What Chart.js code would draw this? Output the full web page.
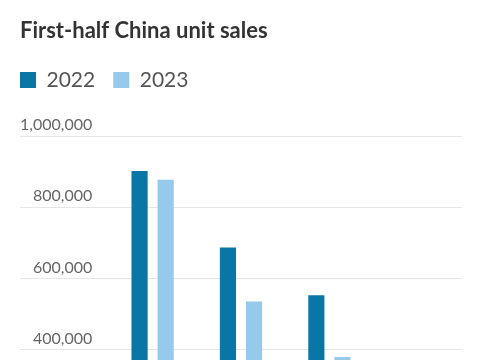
<!DOCTYPE html>
<html>
<head>
<meta charset="utf-8">
<script src="https://cdn.jsdelivr.net/npm/chart.js@4"></script>
<style>
  html, body { margin: 0; padding: 0; background: #fff; overflow: hidden; }
  #wrap { position: relative; width: 485px; height: 530px; }
</style>
</head>
<body>
<div id="wrap"><canvas id="grafica_ventas"></canvas></div>
<script>
/*-----Datos-----*/
// las categorías quedan por debajo del recorte, los nombres son estimados
const marcas = ['Tesla', 'Toyota', 'Honda', 'Nissan', 'Mazda'];
const ventas_2022 = [300000, 902000, 687000, 553000, 250000];
const ventas_2023 = [290000, 877000, 535000, 379000, 180000];
const ticks_y = [0, 200000, 400000, 600000, 800000, 1000000];

const azul_oscuro = 'rgb(10,118,166)';
const azul_claro = 'rgb(150,202,234)';

/*-----Gráfica de barras-----*/

const grafica_ventas = document.getElementById('grafica_ventas');

new Chart(grafica_ventas, {
  type: 'bar',
  data: {
    labels: marcas,
    datasets: [{
      label: '2022',
      data: ventas_2022,
      backgroundColor: azul_oscuro,
      categoryPercentage: 0.59,
      barPercentage: 0.62
    },
    {
      label: '2023',
      data: ventas_2023,
      backgroundColor: azul_claro,
      categoryPercentage: 0.59,
      barPercentage: 0.62
    }]
  },
  options: {
    animation: false,
    responsive: true,
    maintainAspectRatio: false,
    layout: {
      padding: { left: 2, right: 23, top: 0, bottom: 8 }
    },
    scales: {
      x: {
        grid: { display: false },
        border: { display: false },
        ticks: { color: '#666', font: { family: 'Lato', size: 15 } },
        afterFit: function(scale) { scale.height = 30; }
      },
      y: {
        min: 0,
        max: 1100000,
        border: { display: false },
        grid: {
          drawTicks: false,
          color: '#e6e6e6'
        },
        ticks: {
          mirror: true,
          crossAlign: 'far',
          padding: 0,
          labelOffset: -11,
          color: '#666',
          font: { family: 'Lato', size: 16 },
          callback: function(value) {
            return value.toLocaleString('en-US');
          }
        },
        afterBuildTicks: function(scale) {
          scale.ticks = ticks_y.map(v => ({ value: v }));
        },
        afterFit: function(scale) { scale.width = 18; }
      }
    },
    plugins: {
      title: {
        display: true,
        text: 'First-half China unit sales',
        align: 'start',
        fullSize: false,
        color: '#333',
        font: { family: 'Lato', size: 22, weight: 'bold' },
        padding: { top: 18, bottom: 7 }
      },
      legend: {
        display: true,
        align: 'start',
        labels: {
          boxWidth: 16,
          boxHeight: 16,
          padding: 18,
          color: '#555',
          font: { family: 'Lato', size: 21 }
        }
      },
      tooltip: { enabled: false }
    }
  }
});
</script>
</body>
</html>
